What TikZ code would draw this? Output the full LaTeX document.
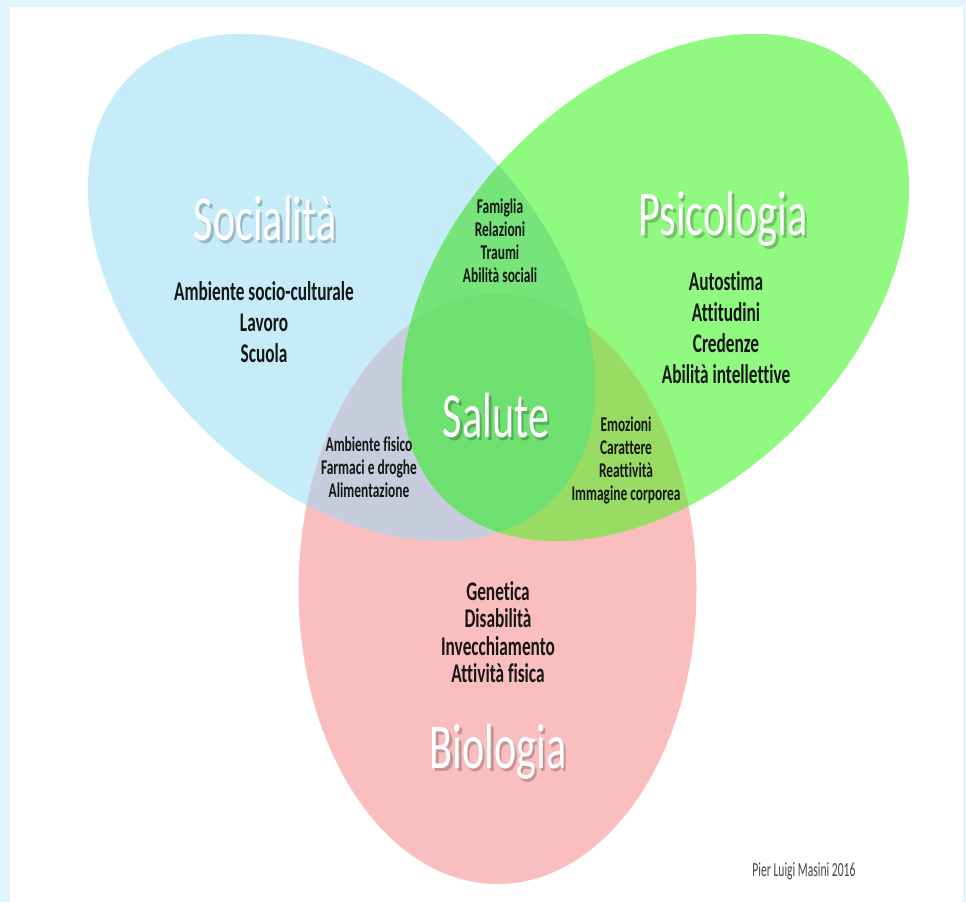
\documentclass[tikz,border=0pt]{standalone}
\usepackage{fontspec}
\setmainfont{Carlito}[Ligatures=NoCommon]
\newfontfamily\lblfont{Carlito}[FakeStretch=0.64, Ligatures=NoCommon]
\newfontfamily\ttlfont{Carlito}[FakeStretch=0.66, Ligatures=NoCommon]
\newfontfamily\credfont{Carlito}[FakeStretch=0.58, Ligatures=NoCommon]
\definecolor{frame}{RGB}{226,244,253}
\definecolor{cSoc}{RGB}{198,236,250}
\definecolor{cPsi}{RGB}{144,249,128}
\definecolor{cBio}{RGB}{251,190,191}
\definecolor{cSP}{RGB}{118,228,122}
\definecolor{cSB}{RGB}{200,205,222}
\definecolor{cPB}{RGB}{152,220,100}
\definecolor{cAll}{RGB}{110,224,112}
\definecolor{ink}{RGB}{22,22,22}
\definecolor{credink}{RGB}{70,70,70}
\begin{document}
\begin{tikzpicture}[x=1pt,y=1pt,
  socshape/.style={rotate around={-45:(341.5,-287.5)}},
  psishape/.style={rotate around={45:(655.5,-287.5)}},
  ttl/.style={anchor=base, inner sep=0pt, text=white, font=\ttlfont\fontsize{64}{70}\selectfont},
  ttlsh/.style={ttl, text=black, opacity=0.22},
  biglist/.style={anchor=north, inner sep=0pt, align=center, text=ink, font=\lblfont\bfseries\fontsize{27}{31}\selectfont},
  smalllist/.style={anchor=north, inner sep=0pt, align=center, text=ink, font=\lblfont\bfseries\fontsize{21}{23}\selectfont}]
\useasboundingbox (0,0) rectangle (966,-902);
\fill[frame] (0,0) rectangle (966,-902);
\fill[white] (10,-7) rectangle (963,-902);
% base shapes
\fill[cSoc, socshape] (341.5,-287.5) ellipse [x radius=299pt, y radius=198pt];
\fill[cPsi, psishape] (655.5,-287.5) ellipse [x radius=299pt, y radius=198pt];
\fill[cBio] (497.5,-589) ellipse [x radius=199pt, y radius=295pt];
% pairwise overlaps
\begin{scope}
  \clip (497.5,-589) ellipse [x radius=199pt, y radius=295pt];
  \fill[cSB, socshape] (341.5,-287.5) ellipse [x radius=299pt, y radius=198pt];
  \fill[cPB, psishape] (655.5,-287.5) ellipse [x radius=299pt, y radius=198pt];
\end{scope}
\begin{scope}
  \clip[socshape] (341.5,-287.5) ellipse [x radius=299pt, y radius=198pt];
  \fill[cSP, psishape] (655.5,-287.5) ellipse [x radius=299pt, y radius=198pt];
  \clip[psishape] (655.5,-287.5) ellipse [x radius=299pt, y radius=198pt];
  \fill[cAll] (497.5,-589) ellipse [x radius=199pt, y radius=295pt];
\end{scope}
% titles (with soft drop shadow)
\node[ttlsh] (socsh) at (267.5,-243) {Socialità};
\node[ttl] (soc) at (265,-240) {Socialità};
\node[ttlsh] (psish) at (725.5,-238) {Psicologia};
\node[ttl] (psi) at (723,-235) {Psicologia};
\node[ttlsh] (salsh) at (498.5,-440) {Salute};
\node[ttl] (sal) at (496,-437) {Salute};
\node[ttlsh] (biosh) at (500.5,-771) {Biologia};
\node[ttl] (bio) at (498,-768) {Biologia};
% lists
\node[biglist] (soclist) at (264,-281) {Ambiente socio-culturale\\Lavoro\\Scuola};
\node[biglist] (psilist) at (726,-271) {Autostima\\Attitudini\\Credenze\\Abilità intellettive};
\node[biglist, font=\lblfont\bfseries\fontsize{27}{27.5}\selectfont] (biolist) at (498,-581) {Genetica\\Disabilità\\Invecchiamento\\Attività fisica};
\node[smalllist] (famlist) at (500,-199) {Famiglia\\Relazioni\\Traumi\\Abilità sociali};
\node[smalllist] (amblist) at (369,-437) {Ambiente fisico\\Farmaci e droghe\\Alimentazione};
\node[smalllist] (emolist) at (626,-417) {Emozioni\\Carattere\\Reattività\\Immagine corporea};
\node[anchor=base, inner sep=0pt, text=credink, font=\credfont\fontsize{20}{22}\selectfont] (credit) at (804,-876) {Pier Luigi Masini 2016};
\end{tikzpicture}
\end{document}
